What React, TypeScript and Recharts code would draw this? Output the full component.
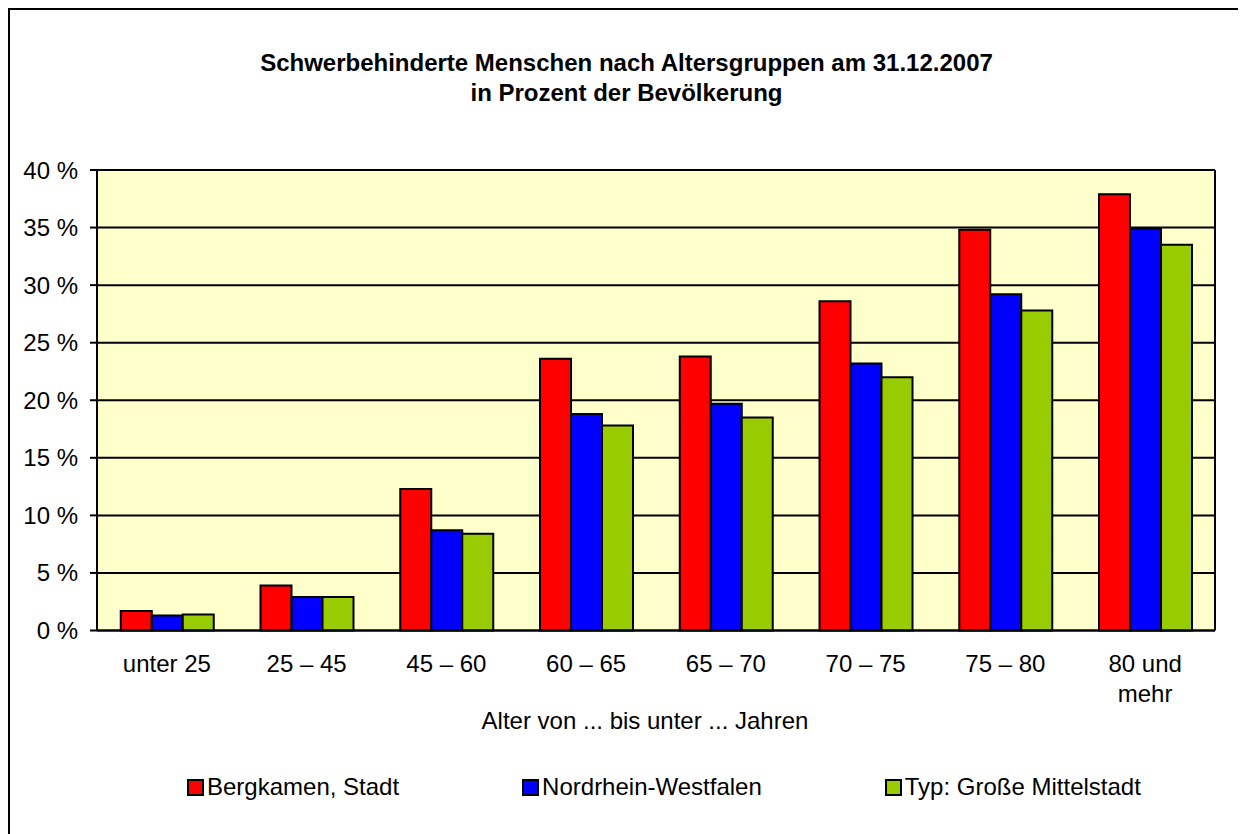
import React from 'react';
import { BarChart, Bar, XAxis, YAxis, CartesianGrid, Legend, Label } from 'recharts';

const categories = ['unter 25', '25 – 45', '45 – 60', '60 – 65', '65 – 70', '70 – 75', '75 – 80', '80 und\nmehr'];
const bergkamen = [1.7, 3.9, 12.3, 23.6, 23.8, 28.6, 34.8, 37.9];
const nrw = [1.3, 2.9, 8.7, 18.8, 19.7, 23.2, 29.2, 34.9];
const mittelstadt = [1.4, 2.9, 8.4, 17.8, 18.5, 22.0, 27.8, 33.5];
const yTicks = [0, 5, 10, 15, 20, 25, 30, 35, 40];

const seriesNames = ['Bergkamen, Stadt', 'Nordrhein-Westfalen', 'Typ: Große Mittelstadt'];
const seriesColors = ['#FF0000', '#0000FF', '#99CC00'];

const titleLines = ['Schwerbehinderte Menschen nach Altersgruppen am 31.12.2007', 'in Prozent der Bevölkerung'];
const xAxisTitle = 'Alter von ... bis unter ... Jahren';

const data = categories.map((c, i) => ({
  cat: c,
  s0: bergkamen[i],
  s1: nrw[i],
  s2: mittelstadt[i],
}));

const FONT = '"Liberation Sans", Arial, sans-serif';
const FS = 24;

const XTick = (props: any) => {
  const { x, y, payload } = props;
  const lines = String(payload.value).split('\n');
  return (
    <text x={x} y={y} textAnchor="middle" fontFamily={FONT} fontSize={FS} fill="#000">
      {lines.map((l, i) => (
        <tspan key={i} x={x} dy={i === 0 ? 41 : 30}>{l}</tspan>
      ))}
    </text>
  );
};

const LegendContent = () => (
  <div style={{ display: 'flex', flexDirection: 'row', gap: 123, paddingLeft: 170, fontFamily: FONT, fontSize: FS, height: 30, alignItems: 'center' }}>
    {seriesNames.map((n, i) => (
      <div key={n} style={{ display: 'flex', alignItems: 'center', whiteSpace: 'nowrap' }}>
        <span style={{ display: 'inline-block', width: 13, height: 13, background: seriesColors[i], border: '2px solid #000', marginRight: 3 }} />
        <span>{n}</span>
      </div>
    ))}
  </div>
);

export default function App() {
  return (
    <div style={{ position: 'relative', width: 1237, height: 826, border: '2px solid #000', borderBottom: 'none', boxSizing: 'border-box', background: '#fff' }}>
      <div style={{ position: 'absolute', top: 38, left: 0, width: '100%', textAlign: 'center', fontFamily: FONT, fontWeight: 'bold', fontSize: FS, lineHeight: '30px', color: '#000' }}>
        {titleLines.map((t) => (
          <div key={t}>{t}</div>
        ))}
      </div>
      <BarChart
        width={1233}
        height={824}
        data={data}
        margin={{ top: 160, right: 27, bottom: 32, left: 7 }}
        barCategoryGap="17%"
        barGap={0}
      >
        <CartesianGrid vertical={false} stroke="#000" strokeWidth={2} fill="#FFFFCC" fillOpacity={1} />
        <XAxis
          dataKey="cat"
          height={141.5}
          tick={<XTick />}
          tickLine={false}
          tickSize={0}
          tickMargin={0}
          axisLine={{ stroke: '#000', strokeWidth: 2 }}
          interval={0}
        >
          <Label
            content={(p: any) => {
              const vb = p.viewBox || {};
              return (
                <text x={vb.x + vb.width / 2 - 11} y={vb.y + 98} textAnchor="middle" fontFamily={FONT} fontSize={FS} fill="#000">
                  {xAxisTitle}
                </text>
              );
            }}
          />
        </XAxis>
        <YAxis
          width={80}
          domain={[0, 40]}
          ticks={yTicks}
          interval={0}
          tickFormatter={(v: number) => `${v} %`}
          tick={{ fontFamily: FONT, fontSize: FS, fill: '#000' }}
          tickSize={7}
          tickMargin={12}
          tickLine={{ stroke: '#000', strokeWidth: 2 }}
          axisLine={{ stroke: '#000', strokeWidth: 2 }}
        />
        <YAxis yAxisId="right" orientation="right" width={1} tick={false} tickLine={false} axisLine={{ stroke: '#000', strokeWidth: 2 }} domain={[0, 40]} />
        <Legend verticalAlign="bottom" content={<LegendContent />} />
        {['s0', 's1', 's2'].map((k, i) => (
          <Bar key={k} dataKey={k} name={seriesNames[i]} fill={seriesColors[i]} stroke="#000" strokeWidth={2} isAnimationActive={false} />
        ))}
      </BarChart>
    </div>
  );
}
